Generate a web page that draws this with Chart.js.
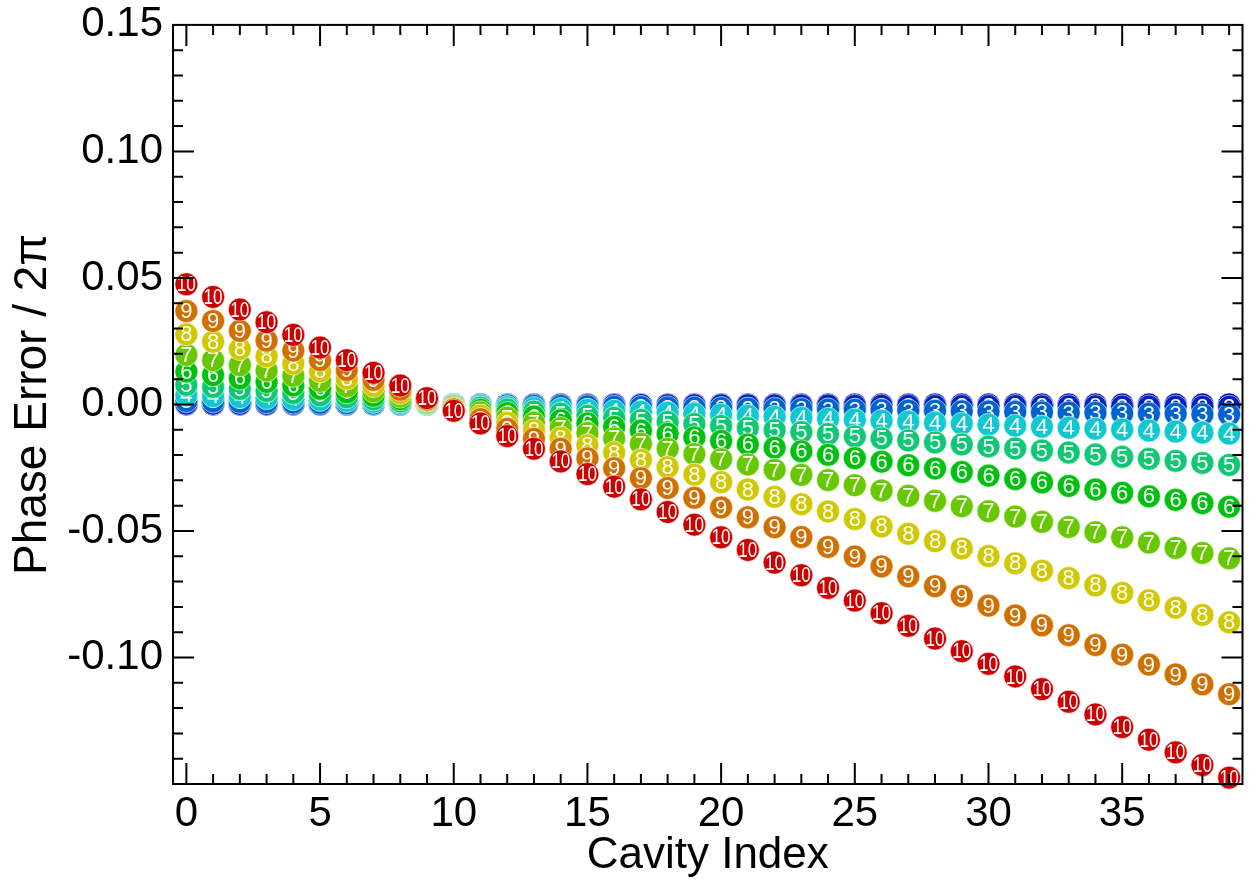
<!DOCTYPE html>
<html>
<head>
<meta charset="utf-8">
<script src="https://cdn.jsdelivr.net/npm/chart.js@4.4.1/dist/chart.umd.min.js"></script>
<style>
  html, body { margin: 0; padding: 0; background: #fff; }
</style>
</head>
<body>
<canvas id="graficoFase" width="1255" height="882"></canvas>
<script>
const cavityIndex = [0, 1, 2, 3, 4, 5, 6, 7, 8, 9, 10, 11, 12, 13, 14, 15, 16, 17, 18, 19,
  20, 21, 22, 23, 24, 25, 26, 27, 28, 29, 30, 31, 32, 33, 34, 35, 36, 37, 38, 39];
const xTicks = [0, 5, 10, 15, 20, 25, 30, 35];
const yTicks = [-0.10, -0.05, 0.00, 0.05, 0.10, 0.15];
const seriesNames = ['1', '2', '3', '4', '5', '6', '7', '8', '9', '10'];

const err1 = [0, 0, 0, 0, 0, 0, 0, 0, 0, 0, 0, 0, 0, 0, 0, 0, 0, 0, 0, 0,
  0, 0, 0, 0, 0, 0, 0, 0, 0, 0, 0, 0, 0, 0, 0, 0, 0, 0, 0, 0];
const err2 = [0.0003, 0.0003, 0.0002, 0.0002, 0.0002, 0.0001, 0.0001, 0.0001, 0.0000, 0.0000,
  0.0000, 0.0000, -0.0001, -0.0001, -0.0001, -0.0002, -0.0002, -0.0002, -0.0003, -0.0003,
  -0.0003, -0.0003, -0.0004, -0.0004, -0.0004, -0.0005, -0.0005, -0.0005, -0.0006, -0.0006,
  -0.0006, -0.0006, -0.0007, -0.0007, -0.0007, -0.0008, -0.0008, -0.0008, -0.0009, -0.0009];
const err3 = [0.0013, 0.0012, 0.0010, 0.0009, 0.0007, 0.0006, 0.0005, 0.0003, 0.0002, 0.0001,
  -0.0001, -0.0002, -0.0003, -0.0005, -0.0006, -0.0007, -0.0009, -0.0010, -0.0012, -0.0013,
  -0.0014, -0.0016, -0.0017, -0.0018, -0.0020, -0.0021, -0.0022, -0.0024, -0.0025, -0.0027,
  -0.0028, -0.0029, -0.0031, -0.0032, -0.0033, -0.0035, -0.0036, -0.0037, -0.0039, -0.0040];
const err4 = [0.0037, 0.0033, 0.0029, 0.0025, 0.0021, 0.0018, 0.0014, 0.0010, 0.0006, 0.0002,
  -0.0002, -0.0006, -0.0010, -0.0014, -0.0018, -0.0021, -0.0025, -0.0029, -0.0033, -0.0037,
  -0.0041, -0.0045, -0.0049, -0.0053, -0.0057, -0.0060, -0.0064, -0.0068, -0.0072, -0.0076,
  -0.0080, -0.0084, -0.0088, -0.0092, -0.0096, -0.0099, -0.0103, -0.0107, -0.0111, -0.0115];
const err5 = [0.0077, 0.0069, 0.0061, 0.0053, 0.0045, 0.0036, 0.0028, 0.0020, 0.0012, 0.0004,
  -0.0004, -0.0012, -0.0020, -0.0028, -0.0036, -0.0045, -0.0053, -0.0061, -0.0069, -0.0077,
  -0.0085, -0.0093, -0.0101, -0.0109, -0.0117, -0.0126, -0.0134, -0.0142, -0.0150, -0.0158,
  -0.0166, -0.0174, -0.0182, -0.0190, -0.0198, -0.0207, -0.0215, -0.0223, -0.0231, -0.0239];
const err6 = [0.0130, 0.0116, 0.0103, 0.0089, 0.0075, 0.0062, 0.0048, 0.0034, 0.0021, 0.0007,
  -0.0007, -0.0021, -0.0034, -0.0048, -0.0062, -0.0075, -0.0089, -0.0103, -0.0116, -0.0130,
  -0.0144, -0.0158, -0.0171, -0.0185, -0.0199, -0.0212, -0.0226, -0.0240, -0.0253, -0.0267,
  -0.0281, -0.0295, -0.0308, -0.0322, -0.0336, -0.0349, -0.0363, -0.0377, -0.0390, -0.0404];
const err7 = [0.0196, 0.0175, 0.0155, 0.0134, 0.0113, 0.0093, 0.0072, 0.0052, 0.0031, 0.0010,
  -0.0010, -0.0031, -0.0052, -0.0072, -0.0093, -0.0113, -0.0134, -0.0155, -0.0175, -0.0196,
  -0.0216, -0.0237, -0.0258, -0.0278, -0.0299, -0.0319, -0.0340, -0.0361, -0.0381, -0.0402,
  -0.0422, -0.0443, -0.0464, -0.0484, -0.0505, -0.0525, -0.0546, -0.0567, -0.0587, -0.0608];
const err8 = [0.0277, 0.0248, 0.0219, 0.0190, 0.0161, 0.0131, 0.0102, 0.0073, 0.0044, 0.0015,
  -0.0015, -0.0044, -0.0073, -0.0102, -0.0131, -0.0161, -0.0190, -0.0219, -0.0248, -0.0277,
  -0.0307, -0.0336, -0.0365, -0.0394, -0.0423, -0.0453, -0.0482, -0.0511, -0.0540, -0.0569,
  -0.0599, -0.0628, -0.0657, -0.0686, -0.0715, -0.0745, -0.0774, -0.0803, -0.0832, -0.0861];
const err9 = [0.0369, 0.0330, 0.0291, 0.0252, 0.0213, 0.0175, 0.0136, 0.0097, 0.0058, 0.0019,
  -0.0019, -0.0058, -0.0097, -0.0136, -0.0175, -0.0213, -0.0252, -0.0291, -0.0330, -0.0369,
  -0.0407, -0.0446, -0.0485, -0.0524, -0.0563, -0.0601, -0.0640, -0.0679, -0.0718, -0.0757,
  -0.0795, -0.0834, -0.0873, -0.0912, -0.0951, -0.0989, -0.1028, -0.1067, -0.1106, -0.1145];
const err10 = [0.0475, 0.0425, 0.0375, 0.0325, 0.0275, 0.0225, 0.0175, 0.0125, 0.0075, 0.0025,
  -0.0025, -0.0075, -0.0125, -0.0175, -0.0225, -0.0275, -0.0325, -0.0375, -0.0425, -0.0475,
  -0.0525, -0.0575, -0.0625, -0.0675, -0.0725, -0.0775, -0.0825, -0.0875, -0.0925, -0.0975,
  -0.1025, -0.1075, -0.1125, -0.1175, -0.1225, -0.1275, -0.1325, -0.1375, -0.1425, -0.1475];

const allErrors = [err1, err2, err3, err4, err5, err6, err7, err8, err9, err10];
const seriesColors = ['#00009a', '#0022c4', '#0062cc', '#10c8d0', '#10c874',
  '#00c010', '#68c800', '#d0c800', '#d07000', '#cc0000'];

const fontFamily = '"Liberation Sans", Arial, sans-serif';

// ticks drawn inward on all four sides, like the original plot
const frame = {
  id: 'frame',
  afterDraw(chart) {
    const { ctx, chartArea: a, scales: { x, y } } = chart;
    ctx.save();
    ctx.strokeStyle = '#000';
    ctx.lineWidth = 2;
    ctx.strokeRect(a.left, a.top, a.right - a.left, a.bottom - a.top);
    ctx.beginPath();
    for (let v = 0; v <= 39; v++) {
      const px = x.getPixelForValue(v);
      const len = v % 5 === 0 ? 21 : 10;
      ctx.moveTo(px, a.bottom); ctx.lineTo(px, a.bottom - len);
      ctx.moveTo(px, a.top); ctx.lineTo(px, a.top + len);
    }
    for (let k = -14; k <= 14; k++) {
      const py = y.getPixelForValue(k / 100);
      const len = k % 5 === 0 ? 21 : 10;
      ctx.moveTo(a.left, py); ctx.lineTo(a.left + len, py);
      ctx.moveTo(a.right, py); ctx.lineTo(a.right - len, py);
    }
    ctx.stroke();
    ctx.restore();
  }
};

// number written inside each circle, after each dataset so layering stays right
const pointNumbers = {
  id: 'pointNumbers',
  afterDatasetDraw(chart, args) {
    const ctx = chart.ctx;
    const txt = chart.data.datasets[args.index].label;
    ctx.save();
    ctx.fillStyle = '#fff';
    ctx.font = '22px ' + fontFamily;
    ctx.textAlign = 'center';
    ctx.textBaseline = 'middle';
    args.meta.data.forEach(pt => {
      ctx.save();
      ctx.translate(pt.x, pt.y + 1);
      if (txt.length > 1) ctx.scale(0.78, 1);
      ctx.fillText(txt, 0, 0);
      ctx.restore();
    });
    ctx.restore();
  }
};

const datasets = allErrors.map((vals, i) => ({
  label: seriesNames[i],
  data: vals.map((v, j) => ({ x: cavityIndex[j], y: v })),
  backgroundColor: seriesColors[i],
  borderColor: 'rgba(255,255,255,0.6)',
  borderWidth: 1,
  pointRadius: 11.5,
  pointHoverRadius: 11.5,
  showLine: false
})).reverse();

new Chart(document.getElementById('graficoFase').getContext('2d'), {
  type: 'scatter',
  data: { datasets: datasets },
  options: {
    responsive: false,
    animation: false,
    events: [],
    clip: false,
    layout: { padding: { top: 0, right: 0, left: 0, bottom: 0 } },
    plugins: { legend: { display: false }, tooltip: { enabled: false } },
    scales: {
      x: {
        type: 'linear',
        min: -0.5,
        max: 39.5,
        grid: { display: false, drawTicks: false },
        border: { display: false },
        afterBuildTicks: s => { s.ticks = xTicks.map(v => ({ value: v })); },
        afterFit: s => { s.height = 98; },
        ticks: { color: '#000', font: { family: fontFamily, size: 42 }, padding: 5, maxRotation: 0, autoSkip: false },
        title: { display: true, text: 'Cavity Index', color: '#000',
          font: { family: fontFamily, size: 44, lineHeight: 1 }, padding: { top: 0, bottom: 4 } }
      },
      y: {
        type: 'linear',
        min: -0.15,
        max: 0.15,
        grid: { display: false, drawTicks: false },
        border: { display: false },
        afterBuildTicks: s => { s.ticks = yTicks.map(v => ({ value: v })); },
        afterFit: s => { s.width = 173; },
        ticks: { color: '#000', font: { family: fontFamily, size: 42, lineHeight: 0.71 }, padding: 10,
          callback: v => v.toFixed(2) },
        title: { display: true, text: 'Phase Error / 2π', color: '#000',
          font: { family: fontFamily, size: 46, lineHeight: 1 }, padding: { top: 10, bottom: 0 } }
      }
    }
  },
  plugins: [frame, pointNumbers]
});
</script>
</body>
</html>
